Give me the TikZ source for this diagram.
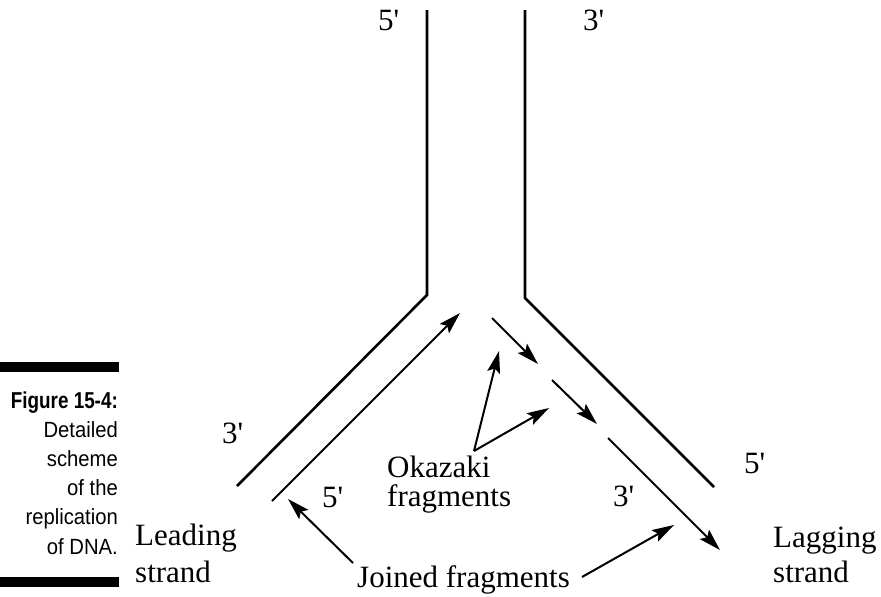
\documentclass[tikz,border=0pt]{standalone}
\usepackage{fontspec}
\setmainfont{Liberation Serif}
\newfontfamily\capfont[FakeStretch=0.92]{Liberation Sans}
\newfontfamily\capboldfont[FakeStretch=0.82]{Liberation Sans}
\usetikzlibrary{arrows.meta}
\newcommand{\pr}{\textquotesingle}
\begin{document}
\begin{tikzpicture}[x=1pt,y=-1pt,
  strandline/.style={line width=2.6pt},
  arr/.style={line width=2pt,-{Stealth[length=22pt,width=13pt,inset=4pt]}},
  lbl/.style={font=\fontsize{31}{36}\selectfont,inner sep=0pt,anchor=base west},
  bar/.style={fill=black,draw=none}]
\useasboundingbox (0,0) rectangle (881,597);
% caption bars
\fill[bar] (0,362) rectangle (119,372);
\fill[bar] (0,577) rectangle (119,587);
\node[inner sep=0pt,anchor=base east,align=right,font=\capfont\fontsize{22}{29.2}\selectfont] (cap) at (118,554)
  {{\capboldfont\bfseries\fontsize{23}{29.2}\selectfont Figure 15-4:}\\Detailed\\scheme\\of the\\replication\\of DNA.};
% strand coordinates
\coordinate (ltop) at (427,10);
\coordinate (lfork) at (427,295);
\coordinate (lend) at (237,486);
\coordinate (rtop) at (525,10);
\coordinate (rfork) at (525,298);
\coordinate (rend) at (714,487);
\draw[strandline] (ltop) -- (lfork) -- (lend);
\draw[strandline] (rtop) -- (rfork) -- (rend);
% leading strand
\coordinate (leads) at (272,501);
\coordinate (leadt) at (460,313);
\draw[arr] (leads) -- (leadt);
% Okazaki fragments
\coordinate (f1s) at (492,318);
\coordinate (f1t) at (538,364);
\coordinate (f2s) at (552,380);
\coordinate (f2t) at (597,424);
\coordinate (f3s) at (608,438);
\coordinate (f3t) at (720,550);
\draw[arr] (f1s) -- (f1t);
\draw[arr] (f2s) -- (f2t);
\draw[arr] (f3s) -- (f3t);
% labels
\node[lbl] (t5) at (378,30) {5\pr};
\node[lbl] (t3) at (583,30) {3\pr};
\node[lbl] (l3) at (222,443) {3\pr};
\node[lbl] (i5) at (322,507) {5\pr};
\node[lbl] (r3) at (613,506) {3\pr};
\node[lbl] (r5) at (744,473) {5\pr};
\node[lbl,align=left,font=\fontsize{31}{29}\selectfont] (oka) at (387,506) {Okazaki\\fragments};
\node[lbl,align=left,font=\fontsize{31}{37}\selectfont] (lead) at (135,582) {Leading\\strand};
\node[lbl,align=left,font=\fontsize{31}{35}\selectfont] (lag) at (773,582) {Lagging\\strand};
\node[lbl] (join) at (357,587) {Joined fragments};
% label arrows
\coordinate (okp) at (474,451);
\coordinate (ok1) at (499,351);
\coordinate (ok2) at (549,408);
\draw[arr] (okp) -- (ok1);
\draw[arr] (okp) -- (ok2);
\coordinate (jl) at (353,563);
\coordinate (jlt) at (288,499);
\coordinate (jr) at (582,577);
\coordinate (jrt) at (674,525);
\draw[arr] (jl) -- (jlt);
\draw[arr] (jr) -- (jrt);
\end{tikzpicture}
\end{document}
